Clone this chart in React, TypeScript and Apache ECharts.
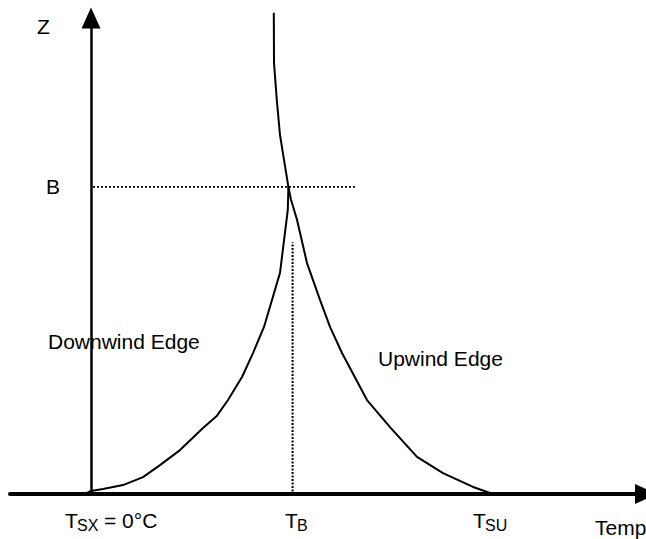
import React, { useEffect, useRef } from "react";
import * as echarts from "echarts";

// Temperature (x) / height Z (y) — arbitrary units
const upwindT = [9.14, 9.15, 9.29, 9.45, 9.65, 9.87, 10.0, 10.3, 10.8, 11.45, 11.95, 12.55, 13.8, 14.95, 16.3, 17.6, 19.1, 20.1];
const upwindZ = [15.67, 14.04, 12.83, 11.69, 10.88, 10.0, 9.58, 8.93, 7.52, 6.32, 5.44, 4.59, 3.06, 2.18, 1.21, 0.68, 0.23, 0.0];
const downwindT = [-0.3, 0.0, 0.6, 1.6, 2.6, 3.45, 4.45, 5.6, 6.3, 6.85, 7.55, 8.1, 8.65, 9.45, 9.84, 9.87];
const downwindZ = [0.0, 0.1, 0.16, 0.29, 0.55, 0.94, 1.43, 2.15, 2.55, 3.06, 3.81, 4.59, 5.44, 7.2, 9.25, 10.0];
const guideB = { z: 10, tFrom: 0.1, tTo: 13.3 };
const guideTB = { t: 10.08, zFrom: 0.08, zTo: 8.2 };

const FONT = '"Liberation Sans", Arial, sans-serif';

export default function App() {
  const ref = useRef<HTMLDivElement>(null);
  useEffect(() => {
    if (!ref.current) return;
    const chart = echarts.init(ref.current, null, { renderer: "svg" });
    const txt = (text: string, x: number, y: number, size = 21) => ({
      type: "text",
      x,
      y,
      style: { text, fill: "#000", font: `${size}px ${FONT}`, align: "left", verticalAlign: "middle" },
    });
    chart.setOption({
      animation: false,
      backgroundColor: "#fff",
      grid: { left: 10, right: 0, top: 18, bottom: 45 },
      xAxis: {
        type: "value",
        min: -4.05,
        max: 27.75,
        axisLine: {
          onZero: true,
          symbol: ["none", "triangle"],
          symbolSize: [20, 22],
          lineStyle: { color: "#000", width: 4 },
        },
        axisTick: { show: false },
        axisLabel: { show: false },
        splitLine: { show: false },
      },
      yAxis: {
        type: "value",
        min: 0,
        max: 15.5,
        axisLine: {
          show: true,
          onZero: true,
          symbol: ["none", "triangle"],
          symbolSize: [19, 21],
          lineStyle: { color: "#000", width: 2.5 },
        },
        axisTick: { show: false },
        axisLabel: { show: false },
        splitLine: { show: false },
      },
      series: [
        {
          name: "Upwind Edge",
          type: "line",
          data: upwindT.map((t, i) => [t, upwindZ[i]]),
          showSymbol: false,
          symbol: "none",
          clip: false,
          lineStyle: { color: "#000", width: 2 },
        },
        {
          name: "Downwind Edge",
          type: "line",
          data: downwindT.map((t, i) => [t, downwindZ[i]]),
          showSymbol: false,
          symbol: "none",
          clip: false,
          lineStyle: { color: "#000", width: 2 },
        },
        {
          name: "B level",
          type: "line",
          data: [
            [guideB.tFrom, guideB.z],
            [guideB.tTo, guideB.z],
          ],
          symbol: "none",
          lineStyle: { color: "#000", width: 1.6, type: [2, 2] },
        },
        {
          name: "TB level",
          type: "line",
          data: [
            [guideTB.t, guideTB.zFrom],
            [guideTB.t, guideTB.zTo],
          ],
          symbol: "none",
          lineStyle: { color: "#000", width: 2, type: [2, 1.5] },
        },
      ],
      graphic: [
        txt("Z", 37, 26.5),
        txt("B", 46, 186.5),
        txt("Downwind Edge", 48, 341),
        txt("Upwind Edge", 378, 358),
        txt("T", 65, 520),
        txt("SX", 77, 525, 16),
        txt("= 0°C", 104, 520),
        txt("T", 285, 520),
        txt("B", 297, 525, 16),
        txt("T", 473, 520),
        txt("SU", 485, 525, 16),
        txt("Temp", 595, 527),
      ],
    });
    return () => chart.dispose();
  }, []);
  return (
    <div
      ref={ref}
      style={{ position: "fixed", left: 0, top: 0, width: 646, height: 539, background: "#fff" }}
    />
  );
}
